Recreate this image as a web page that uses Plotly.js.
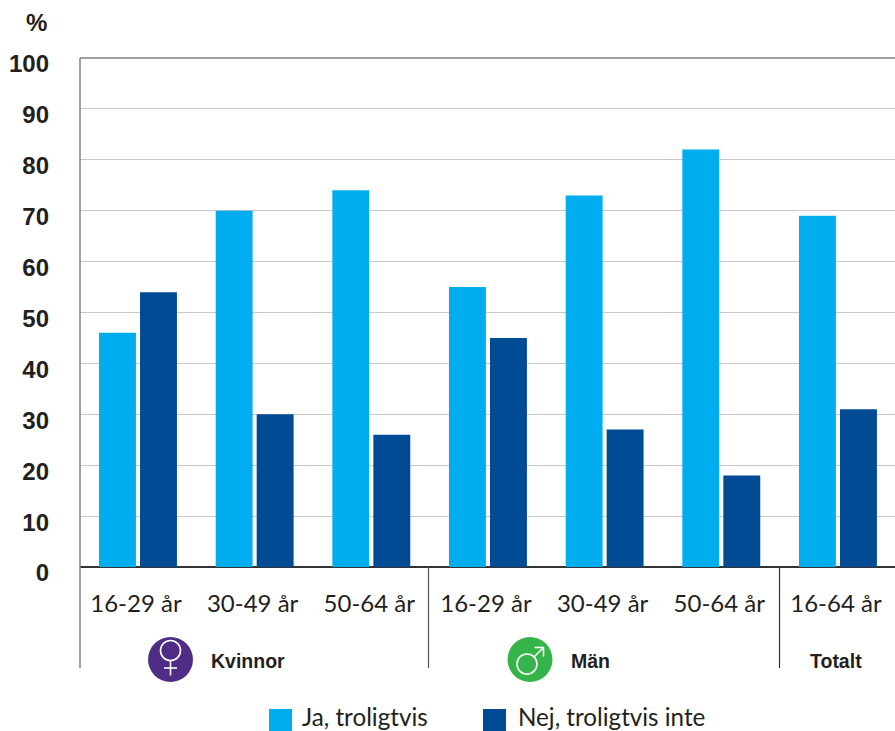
<!DOCTYPE html>
<html><head><meta charset="utf-8">
<script src="https://cdn.plot.ly/plotly-3.0.1.min.js"></script>
<style>html,body{margin:0;padding:0;background:#fff;overflow:hidden}</style>
</head><body><div id="chart" style="width:895px;height:731px"></div>
<script>
const groupLabels = ["16-29 år","30-49 år","50-64 år","16-29 år","30-49 år","50-64 år","16-64 år"];
const groupIndex = [0,1,2,3,4,5,6];
const jaValues = [46,70,74,55,73,82,69];
const nejValues = [54,30,26,45,27,18,31];
const seriesNames = ["Ja, troligtvis","Nej, troligtvis inte"];
const groupTitles = ["Kvinnor","Män","Totalt"];
const yTicks = [0,10,20,30,40,50,60,70,80,90,100];

const W=895,H=731,L=80,T=58,B=567;
const fx=p=>(p-L)/(W-L), fy=p=>(B-p)/(B-T);
const BLUE="#00aeef",NAVY="#004b93",INK="#231f20",SANS="Lato, 'Open Sans', sans-serif",BOLD="'Liberation Sans',sans-serif";
const paper=(o)=>Object.assign({xref:"paper",yref:"paper"},o);
const rect=(x0,y0,x1,y1,c)=>paper({type:"rect",x0:fx(x0),x1:fx(x1),y0:fy(y1),y1:fy(y0),fillcolor:c,line:{width:0}});
const vline=(x,y0,y1,c,w)=>paper({type:"line",x0:fx(x),x1:fx(x),y0:fy(y1),y1:fy(y0),line:{color:c,width:w}});
const circle=(cx,cy,r,fill,line)=>paper({type:"circle",x0:fx(cx-r),x1:fx(cx+r),y0:fy(cy+r),y1:fy(cy-r),fillcolor:fill,line:line||{width:0}});
const seg=(x0,y0,x1,y1)=>paper({type:"line",x0:fx(x0),x1:fx(x1),y0:fy(y0),y1:fy(y1),line:{color:"#fff",width:1.6}});
const WR={color:"#fff",width:1.6};

const shapes=[
  paper({type:"line",x0:0,x1:1,y0:1,y1:1,line:{color:"#808080",width:1.5}}),
  vline(80,58,668,"#808080",1.5),
  vline(428.5,567,668,"#555",1.2),
  vline(779.5,567,668,"#333",1.2),
  circle(170.5,659.5,22.5,"#4f2d87"),
  circle(170.5,650.5,10,"rgba(0,0,0,0)",WR),
  seg(170.5,660.5,170.5,675.5), seg(164,668,177,668),
  circle(530,659.5,22.5,"#35b44a"),
  circle(527,664,10,"rgba(0,0,0,0)",WR),
  seg(534,657,543.5,647.5), seg(534.5,647.5,543.5,647.5), seg(543.5,647.5,543.5,656.5),
  rect(269,709,292,731,BLUE),
  rect(483,709,506,731,NAVY)
];
const ann=(text,x,y,font,anchor)=>({text,xref:"paper",yref:"paper",x:fx(x),y:fy(y),xanchor:anchor||"left",yanchor:"middle",showarrow:false,font});
const annotations=[
  ann("%",49,23,{family:BOLD,size:24,color:INK,weight:700},"right"),
  ann(groupTitles[0],209,661,{family:BOLD,size:19.5,color:INK,weight:700}),
  ann(groupTitles[1],569,661,{family:BOLD,size:19.5,color:INK,weight:700}),
  ann(groupTitles[2],808,661,{family:BOLD,size:19.5,color:INK,weight:700}),
  ann(seriesNames[0],300,716.5,{family:SANS,size:24.2,color:INK}),
  ann(seriesNames[1],516,716.5,{family:SANS,size:24.2,color:INK})
];
const data=[
 {type:"bar",name:seriesNames[0],x:groupIndex,y:jaValues,marker:{color:BLUE},hoverinfo:"x+y"},
 {type:"bar",name:seriesNames[1],x:groupIndex,y:nejValues,marker:{color:NAVY},hoverinfo:"x+y"}
];
const layout={
 width:W,height:H,margin:{l:L,r:0,t:T,b:H-B,pad:0},paper_bgcolor:"#fff",plot_bgcolor:"#fff",
 barmode:"group",bargap:0.297,bargroupgap:0.1,showlegend:false,
 xaxis:{range:[-0.497,6.489],tickmode:"array",tickvals:groupIndex,ticktext:groupLabels,ticks:"",showgrid:false,zeroline:false,showline:false,
   tickfont:{family:SANS,size:24,color:INK},ticklabelstandoff:20,ticklabelshift:-2},
 yaxis:{range:[0,100],tickmode:"array",tickvals:yTicks,ticks:"",showline:false,gridcolor:"#c9c9c9",gridwidth:1,zeroline:true,zerolinecolor:"#333",zerolinewidth:1.5,
   tickfont:{family:BOLD,size:24,color:INK,weight:700},ticklabelstandoff:30,ticklabelshift:6},
 shapes,annotations
};
Plotly.newPlot("chart",data,layout,{displayModeBar:false,staticPlot:true});
</script></body></html>
